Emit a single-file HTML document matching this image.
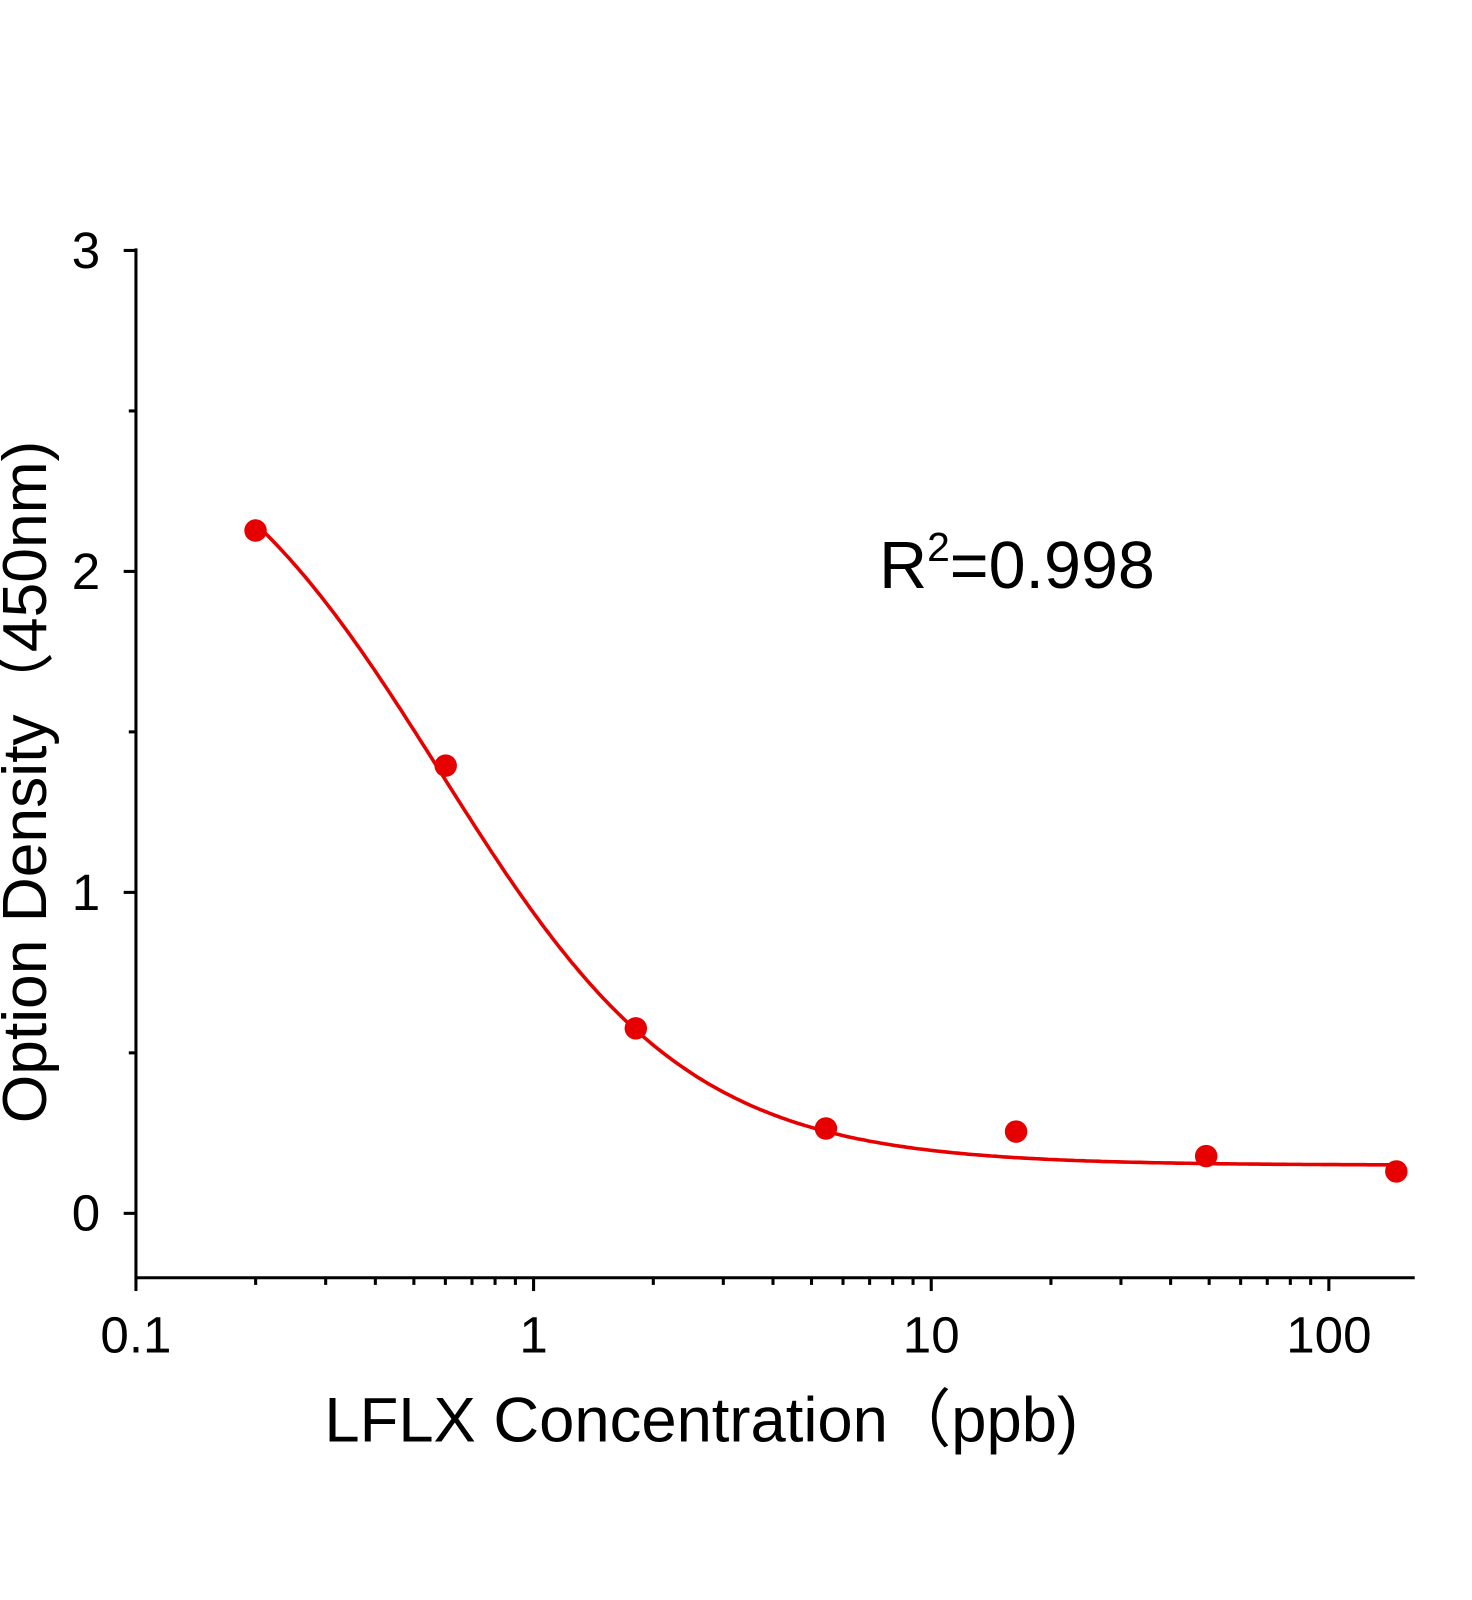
<!DOCTYPE html>
<html><head><meta charset="utf-8"><style>
html,body{margin:0;padding:0;background:#fff;}
svg{display:block;font-family:"Liberation Sans","DejaVu Sans",sans-serif;}
</style></head><body>
<svg id="s" width="1472" height="1600" viewBox="0 0 1472 1600" xmlns="http://www.w3.org/2000/svg">
<rect width="1472" height="1600" fill="#fff"/>
<g transform="scale(1.0222)">
<g id="ax" stroke="#000" stroke-width="3" fill="none">
<line x1="133" y1="243" x2="133" y2="1251"/>
<line x1="132" y1="1250" x2="1384" y2="1250"/>
</g>
<g font-size="50" fill="#000" text-anchor="end">
<text x="98" y="262">3</text>
<text x="98" y="576">2</text>
<text x="98" y="890">1</text>
<text x="98" y="1204">0</text>
</g>
<g font-size="50" fill="#000" text-anchor="middle">
<text x="133" y="1323">0.1</text>
<text x="522" y="1323">1</text>
<text x="911" y="1323">10</text>
<text x="1300" y="1323">100</text>
</g>
<text x="686" y="1410" font-size="62" text-anchor="middle">LFLX Concentration（ppb)</text>
<text transform="translate(45,765) rotate(-90)" font-size="61" text-anchor="middle">Option Density（450nm)</text>
<text x="860" y="575" font-size="65">R<tspan dy="-26" font-size="40">2</tspan><tspan dy="26">=0.998</tspan></text>
<path id="curve" fill="none" stroke="#e60000" stroke-width="3.5"/>
<g fill="#e60000">
<circle cx="250" cy="519" r="11"/><circle cx="436" cy="749" r="11"/><circle cx="622" cy="1006" r="11"/>
<circle cx="808" cy="1104" r="11"/><circle cx="994" cy="1107" r="11"/><circle cx="1180" cy="1131" r="11"/>
<circle cx="1366" cy="1146" r="11"/>
</g>
</g>
</svg>
<script>
var ns="http://www.w3.org/2000/svg",ax=document.getElementById('ax');
function ln(a,b,c,d){var l=document.createElementNS(ns,'line');l.setAttribute('x1',a);l.setAttribute('y1',b);l.setAttribute('x2',c);l.setAttribute('y2',d);ax.appendChild(l);}
[245,559,873,1187].forEach(function(y){ln(121,y,133,y);});
[402,716,1030].forEach(function(y){ln(126,y,133,y);});
for(var dec=-1;dec<=2;dec++){for(var k=1;k<=9;k++){var v=k*Math.pow(10,dec);var x=133+389*(Math.log10(v)+1);if(x>1384)continue;ln(x,1250,x,k==1?1263:1257);}}
var A=2.6,D=0.15,C=0.583,B=1.39,d="";
for(var i=0;i<=300;i++){var lx=Math.log10(0.2)+i/300*(Math.log10(150)-Math.log10(0.2));var x=Math.pow(10,lx);var y=D+(A-D)/(1+Math.pow(x/C,B));var px=133+389*(lx+1),py=1187-314*y;d+=(i?"L":"M")+px.toFixed(1)+","+py.toFixed(1);}
document.getElementById('curve').setAttribute('d',d);
</script>
</body></html>
